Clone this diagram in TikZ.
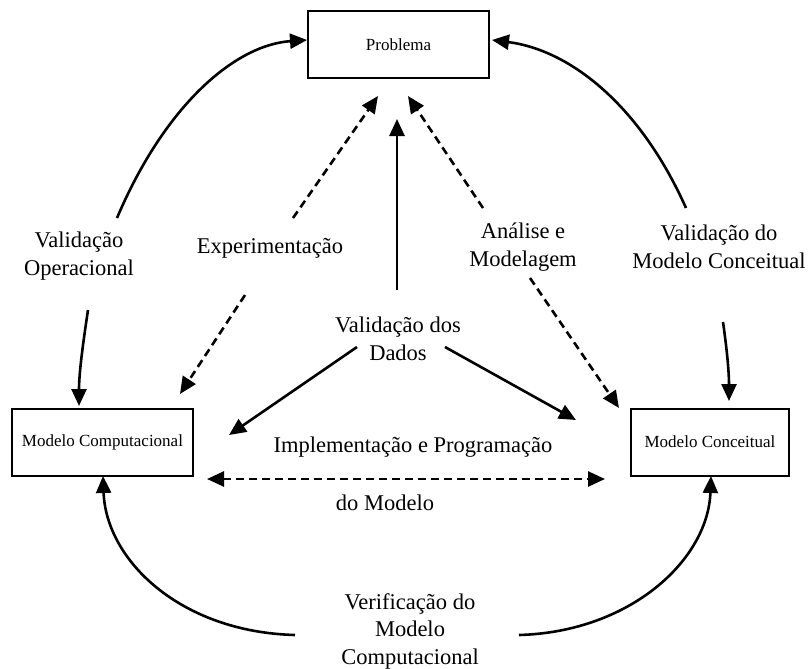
\documentclass[tikz,border=0pt]{standalone}
\usepackage{fontspec}
\setmainfont{Liberation Serif}
\usetikzlibrary{arrows.meta}
\begin{document}
\begin{tikzpicture}[x=1pt,y=-1pt,
  box/.style={draw,line width=2pt,minimum width=181pt,minimum height=67pt,inner sep=0pt,font=\fontsize{17}{19}\selectfont},
  lbl/.style={align=center,font=\fontsize{22.5}{27.5}\selectfont,inner sep=0pt},
  arr/.style={line width=2.6pt,-{Triangle[length=17pt,width=15pt]}},
  darr/.style={arr,dash pattern=on 8pt off 5pt}]
\useasboundingbox (0,0) rectangle (812,669);
\node[box] (prob) at (398.5,44.5) {Problema};
\node[box,minimum width=181pt] (comp) at (102.5,442) {Modelo Computacional};
\node[box,minimum width=158pt] (conc) at (710,442) {Modelo Conceitual};
\node[lbl] (vop) at (79,256) {Validação\\Operacional};
\node[lbl] (exp) at (270,248) {Experimentação};
\node[lbl] (ana) at (523,247) {Análise e\\Modelagem};
\node[lbl] (vmc) at (719,247) {Validação do\\Modelo Conceitual};
\node[lbl] (vdd) at (398,339) {Validação dos\\Dados};
\node[lbl] (imp) at (413,447) {Implementação e Programação};
\node[lbl] (dom) at (385,503) {do Modelo};
\node[lbl] (ver) at (410,631) {Verificação do\\Modelo\\Computacional};
% endpoints
\coordinate (a1s) at (117,218); \coordinate (a1e) at (307,40);
\coordinate (a2s) at (88,310);  \coordinate (a2e) at (79,406);
\coordinate (b1s) at (293,218); \coordinate (b1e) at (378,96);
\coordinate (b2s) at (245,295); \coordinate (b2e) at (180,394);
\coordinate (cs) at (397,290);  \coordinate (ce) at (397,119);
\coordinate (d1s) at (483,208); \coordinate (d1e) at (408,96);
\coordinate (d2s) at (530,278); \coordinate (d2e) at (619,408);
\coordinate (e1s) at (686,208); \coordinate (e1e) at (492,40);
\coordinate (e2s) at (723,322); \coordinate (e2e) at (729,401);
\coordinate (f1s) at (357,347); \coordinate (f1e) at (229,435);
\coordinate (f2s) at (445,347); \coordinate (f2e) at (576,420);
\coordinate (hl) at (207,479);  \coordinate (hr) at (605,479);
\coordinate (g1s) at (295,635); \coordinate (g1e) at (103,476);
\coordinate (g2s) at (519,635); \coordinate (g2e) at (711,476);
\draw[arr] (a1s) .. controls (165,105) and (235,45) .. (a1e);
\draw[arr] (a2s) .. controls (82,350) and (79,375) .. (a2e);
\draw[darr] (b1s) -- (b1e);
\draw[darr] (b2s) -- (b2e);
\draw[arr] (cs) -- (ce);
\draw[darr] (d1s) -- (d1e);
\draw[darr] (d2s) -- (d2e);
\draw[arr] (e1s) .. controls (640,105) and (570,50) .. (e1e);
\draw[arr] (e2s) .. controls (727,350) and (729,372) .. (e2e);
\draw[arr] (f1s) -- (f1e);
\draw[arr] (f2s) -- (f2e);
\draw[darr,{Triangle[length=17pt,width=15pt]}-{Triangle[length=17pt,width=15pt]}] (hl) -- (hr);
\draw[arr] (g1s) .. controls (180,632) and (106,560) .. (g1e);
\draw[arr] (g2s) .. controls (630,632) and (708,560) .. (g2e);
\end{tikzpicture}
\end{document}
